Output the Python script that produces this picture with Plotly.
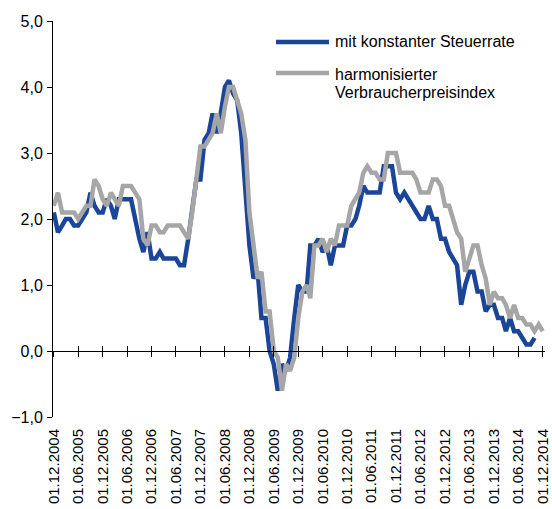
import plotly.graph_objects as go
import pandas as pd

# monthly values, first point 01.12.2004
months = pd.date_range("2004-12-01", periods=121, freq="MS")

# mit konstanter Steuerrate (ends two months earlier)
konstant = [
    2.1, 1.8, 1.9, 2.0, 2.0, 1.9, 1.9, 2.0, 2.1, 2.4, 2.2, 2.1,
    2.1, 2.3, 2.2, 2.0, 2.3, 2.3, 2.3, 2.3, 2.0, 1.7, 1.5, 1.8,
    1.4, 1.4, 1.5, 1.4, 1.4, 1.4, 1.4, 1.3, 1.3, 1.7, 2.1, 2.6,
    2.6, 3.2, 3.3, 3.6, 3.3, 3.6, 4.0, 4.1, 3.9, 3.8, 3.3, 2.3,
    1.6, 1.1, 1.2, 0.5, 0.5, 0.0, -0.2, -0.6, -0.2, -0.3, -0.1, 0.5,
    1.0, 0.9, 0.9, 1.6, 1.6, 1.7, 1.5, 1.6, 1.3, 1.6, 1.6, 1.6,
    1.9, 1.9, 2.0, 2.2, 2.5, 2.4, 2.4, 2.4, 2.4, 2.8, 2.8, 2.8,
    2.4, 2.3, 2.4, 2.3, 2.2, 2.1, 2.0, 2.0, 2.2, 2.0, 2.0, 1.7,
    1.7, 1.5, 1.4, 1.3, 0.7, 1.0, 1.2, 1.2, 0.9, 0.9, 0.6, 0.7,
    0.7, 0.5, 0.5, 0.3, 0.5, 0.3, 0.3, 0.2, 0.1, 0.1, 0.2,
]

# harmonisierter Verbraucherpreisindex
hvpi = [
    2.2, 2.4, 2.1, 2.1, 2.1, 2.1, 2.0, 2.1, 2.2, 2.2, 2.6, 2.5,
    2.3, 2.2, 2.4, 2.3, 2.2, 2.5, 2.5, 2.5, 2.4, 2.3, 1.7, 1.6,
    1.9, 1.9, 1.8, 1.8, 1.9, 1.9, 1.9, 1.9, 1.8, 1.7, 2.1, 2.6,
    3.1, 3.1, 3.2, 3.3, 3.6, 3.3, 3.7, 4.0, 4.0, 3.8, 3.6, 3.2,
    2.1, 1.6, 1.1, 1.2, 0.6, 0.6, 0.0, -0.1, -0.6, -0.2, -0.3, -0.1,
    0.5, 0.9, 1.0, 0.8, 1.6, 1.6, 1.7, 1.5, 1.7, 1.6, 1.9, 1.9,
    1.9, 2.2, 2.3, 2.4, 2.7, 2.8, 2.7, 2.7, 2.6, 2.6, 3.0, 3.0,
    3.0, 2.7, 2.7, 2.7, 2.7, 2.6, 2.4, 2.4, 2.4, 2.6, 2.6, 2.5,
    2.2, 2.2, 2.0, 1.8, 1.7, 1.2, 1.4, 1.6, 1.6, 1.3, 1.1, 0.7,
    0.9, 0.8, 0.8, 0.7, 0.5, 0.7, 0.5, 0.5, 0.4, 0.4, 0.3, 0.4,
    0.3,
]

tick_dates = pd.date_range("2004-12-01", "2014-12-01", freq="6MS")
tick_labels = [d.strftime("%d.%m.%Y") for d in tick_dates]

name_blue = "mit konstanter Steuerrate"
name_grey = ["harmonisierter", "Verbraucherpreisindex"]

BLUE = "#1B4598"
GREY = "#A6A6A6"
FONT = "Arial, Liberation Sans, sans-serif"

# plot area in pixels
L, R, T, B = 53, 545, 21, 417
W, H = R - L, B - T

def px(x):
    return (x - L) / W

def py(y):
    return (B - y) / H

xrange_ = ["2004-11-25", "2014-12-18"]

fig = go.Figure()
fig.add_trace(go.Scatter(x=months[:len(konstant)], y=konstant, mode="lines",
                         line=dict(color=BLUE, width=4.5), showlegend=False))
fig.add_trace(go.Scatter(x=months, y=hvpi, mode="lines",
                         line=dict(color=GREY, width=4.5), showlegend=False))
# empty traces so the overlay axes at y=0 get drawn
for ax in ["x2", "x3"]:
    fig.add_trace(go.Scatter(x=[months[0]], y=[None], xaxis=ax, yaxis="y",
                             showlegend=False, hoverinfo="skip"))

axis_at_zero = dict(type="date", range=xrange_, overlaying="x", anchor="free",
                    position=1 / 6, tickvals=list(tick_dates), showticklabels=False,
                    ticklen=5, tickcolor="black", tickwidth=1, showgrid=False,
                    zeroline=False, automargin=False)

fig.update_layout(
    template="none",
    width=552, height=509,
    margin=dict(l=L, r=552 - R, t=T, b=509 - B, autoexpand=False),
    paper_bgcolor="white", plot_bgcolor="white",
    font=dict(family=FONT, size=16, color="black"),
    separators=",.",
    showlegend=False,
    xaxis=dict(type="date", range=xrange_, tickvals=list(tick_dates),
               ticktext=tick_labels, tickangle=-90, ticks="", showline=False,
               showgrid=False, zeroline=False, tickfont=dict(size=15),
               ticklabelstandoff=8, automargin=False),
    xaxis2=dict(axis_at_zero, ticks="outside", showline=True, linecolor="black",
                linewidth=1, side="bottom"),
    xaxis3=dict(axis_at_zero, ticks="inside", showline=False, side="bottom"),
    yaxis=dict(range=[-1, 5], dtick=1, tick0=0, tickformat=".1f", showgrid=False,
               zeroline=False, showline=True, linecolor="black", linewidth=1,
               ticks="outside", ticklen=5, tickcolor="black",
               tickfont=dict(size=16), ticklabelstandoff=1, automargin=False),
)

# legend drawn by hand to get the long line samples
fig.add_shape(type="line", xref="paper", yref="paper", x0=px(276), x1=px(329),
              y0=py(42), y1=py(42), line=dict(color=BLUE, width=4.5))
fig.add_shape(type="line", xref="paper", yref="paper", x0=px(276), x1=px(329),
              y0=py(73), y1=py(73), line=dict(color=GREY, width=4.5))
fig.add_annotation(xref="paper", yref="paper", x=px(333), y=py(42), text=name_blue,
                   showarrow=False, xanchor="left", yanchor="middle", font=dict(size=16))
fig.add_annotation(xref="paper", yref="paper", x=px(333), y=py(74), text=name_grey[0],
                   showarrow=False, xanchor="left", yanchor="middle", font=dict(size=16))
fig.add_annotation(xref="paper", yref="paper", x=px(333), y=py(93), text=name_grey[1],
                   showarrow=False, xanchor="left", yanchor="middle", font=dict(size=16))

# the page body has a default margin; remove it so the figure sits at the corner
fig.write_html("out.html", config={"displayModeBar": False},
               post_script="document.body.style.margin='0';")
